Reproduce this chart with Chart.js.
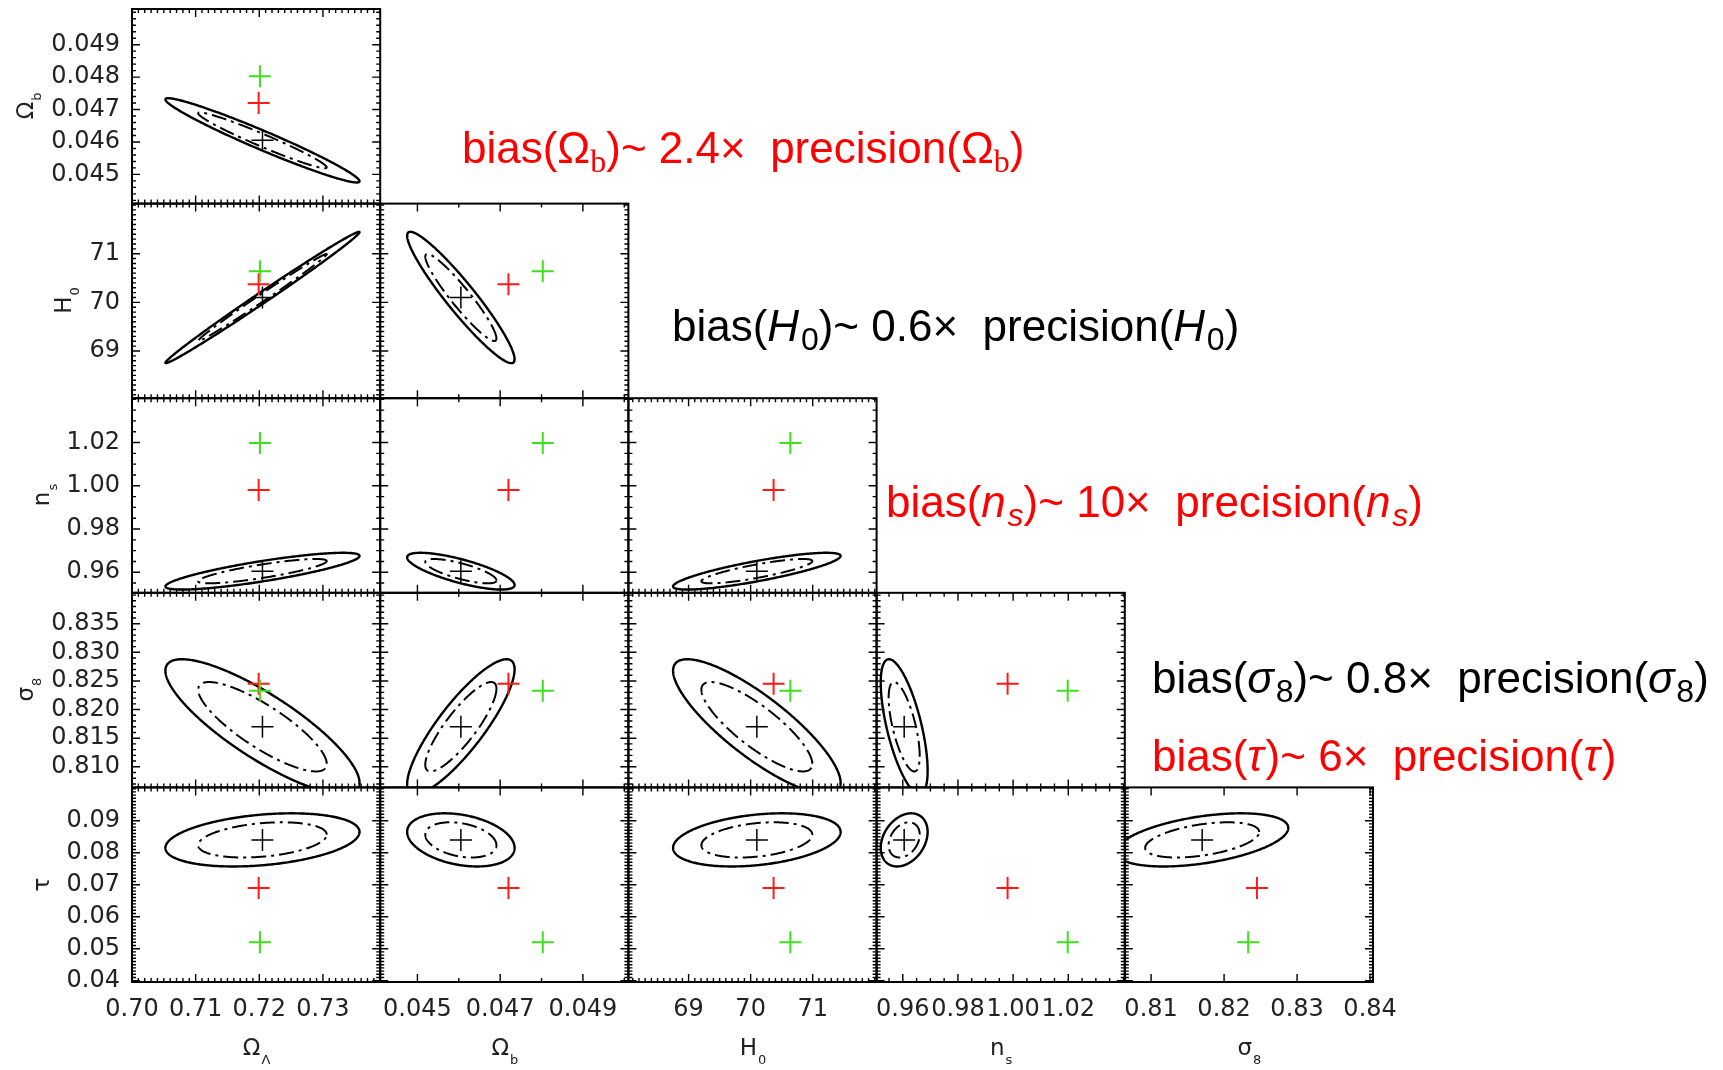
<!DOCTYPE html>
<html>
<head>
<meta charset="utf-8">
<script src="https://cdn.jsdelivr.net/npm/chart.js@4/dist/chart.umd.min.js"></script>
<style>
  html, body { margin: 0; padding: 0; background: #fff; }
</style>
</head>
<body>
<canvas id="tri" width="1723" height="1070"></canvas>
<script>
// parameter order: columns use 0..4, rows use 1..5
var paramNames = ['Omega_L', 'Omega_b', 'H0', 'n_s', 'sigma_8', 'tau'];
var axisMin = [0.700, 0.0441, 68.03, 0.9505, 0.8064, 0.0396];
var axisMax = [0.739, 0.0501, 72.03, 1.0405, 0.8404, 0.1004];

// black = fiducial, red and green = biased fits
var fiducial    = [0.7205, 0.04605, 70.10, 0.9605, 0.8170, 0.0840];
var biasedRed   = [0.7199, 0.04720, 70.37, 0.9980, 0.8245, 0.0690];
var biasedGreen = [0.7201, 0.04803, 70.64, 1.0198, 0.8233, 0.0520];

// marginal errors (inner contour half-width) and pair correlations [i, j, rho]
var sigma = [0.0101, 0.00086, 0.894, 0.00563, 0.00781, 0.0055];
var correlations = [
  [0, 1, -0.97], [0, 2, 0.995], [1, 2, -0.94],
  [0, 3, 0.83], [1, 3, -0.75], [2, 3, 0.83],
  [0, 4, -0.83], [1, 4, 0.85], [2, 4, -0.83], [3, 4, -0.65],
  [0, 5, 0.30], [1, 5, -0.30], [2, 5, 0.30], [3, 5, 0.30], [4, 5, 0.45]
];
var contourLevels = [1.0, 1.51];

var xTickLabels = [
  [0.70, 0.71, 0.72, 0.73],
  [0.045, 0.047, 0.049],
  [69, 70, 71],
  [0.96, 0.98, 1.00, 1.02],
  [0.81, 0.82, 0.83, 0.84]
];
var yTickLabels = [
  [0.045, 0.046, 0.047, 0.048, 0.049],
  [69, 70, 71],
  [0.96, 0.98, 1.00, 1.02],
  [0.810, 0.815, 0.820, 0.825, 0.830, 0.835],
  [0.04, 0.05, 0.06, 0.07, 0.08, 0.09]
];
var xDecimals = [2, 3, 0, 2, 2];
var yDecimals = [3, 0, 2, 3, 2];
var xMinorStep = [0.001, 0.001, 0.1, 0.005, 0.01];
var yMinorStep = [0.0002, 0.1, 0.005, 0.001, 0.001];

var xTitles = [['Ω', 'Λ'], ['Ω', 'b'], ['H', '0'], ['n', 's'], ['σ', '8']];
var yTitles = [['Ω', 'b'], ['H', '0'], ['n', 's'], ['σ', '8'], ['τ', '']];

// bias notes: segments [text, style] (i = italic, s = subscript, si = italic subscript)
var biasNotes = [
  { color: '#ff0000', parts: [['bias('], ['Ω'], ['b', 's'], [')~ 2.4×  precision('], ['Ω'], ['b', 's'], [')']] },
  { color: '#000000', parts: [['bias('], ['H', 'i'], ['0', 's'], [')~ 0.6×  precision('], ['H', 'i'], ['0', 's'], [')']] },
  { color: '#ff0000', parts: [['bias('], ['n', 'i'], ['s', 'si'], [')~ 10×  precision('], ['n', 'i'], ['s', 'si'], [')']] },
  { color: '#000000', parts: [['bias('], ['σ', 'i'], ['8', 's'], [')~ 0.8×  precision('], ['σ', 'i'], ['8', 's'], [')']] },
  { color: '#ff0000', parts: [['bias('], ['τ', 'i'], [')~ 6×  precision('], ['τ', 'i'], [')']] }
];
var notePos = [[462, 163], [672, 341], [886, 517], [1152, 693], [1152, 771]];

var NP = 5;
var tickFont = { family: 'DejaVu Sans', size: 24 };
var noteSize = 44;

function corrOf(a, b) {
  for (var k = 0; k < correlations.length; k++) {
    var p = correlations[k];
    if ((p[0] === a && p[1] === b) || (p[0] === b && p[1] === a)) return p[2];
  }
  return 0;
}

function stepValues(min, max, step) {
  var out = [];
  for (var i = Math.ceil(min / step - 1e-6); i * step <= max + 1e-9; i++) out.push(i * step);
  return out;
}

var scales = {};
for (var c = 0; c < NP; c++) {
  (function(c) {
    scales['x' + c] = {
      type: 'linear', position: 'bottom', stack: 'cols', stackWeight: 1, weight: c,
      min: axisMin[c], max: axisMax[c],
      grid: { display: false, drawTicks: false },
      border: { display: false },
      ticks: {
        autoSkip: false, maxRotation: 0, padding: 13, color: '#222', font: tickFont,
        callback: function(v) { return Number(v).toFixed(xDecimals[c]); }
      },
      afterBuildTicks: function(s) { s.ticks = xTickLabels[c].map(function(v) { return { value: v }; }); },
      afterFit: function(s) { s.height = 88; s.paddingLeft = 0; s.paddingRight = 0; }
    };
  })(c);
}
for (var r = 0; r < NP; r++) {
  (function(r) {
    scales['y' + r] = {
      type: 'linear', position: 'left', stack: 'rows', stackWeight: 1, weight: NP - 1 - r,
      min: axisMin[r + 1], max: axisMax[r + 1],
      grid: { display: false, drawTicks: false },
      border: { display: false },
      ticks: {
        autoSkip: false, padding: 12, color: '#222', font: tickFont,
        callback: function(v) { return Number(v).toFixed(yDecimals[r]); }
      },
      afterBuildTicks: function(s) { s.ticks = yTickLabels[r].map(function(v) { return { value: v }; }); },
      afterFit: function(s) { s.width = 132; s.paddingTop = 0; s.paddingBottom = 0; }
    };
  })(r);
}

var datasets = [];
for (var r = 0; r < NP; r++) {
  for (var c = 0; c <= r; c++) {
    var b = r + 1;
    datasets.push({
      xAxisID: 'x' + c, yAxisID: 'y' + r,
      data: [
        { x: fiducial[c], y: fiducial[b] },
        { x: biasedRed[c], y: biasedRed[b] },
        { x: biasedGreen[c], y: biasedGreen[b] }
      ],
      pointStyle: 'cross',
      pointRadius: 11,
      pointBorderColor: ['#000000', '#ff1a1a', '#3ee01c'],
      pointBorderWidth: [1.5, 2, 2],
      showLine: false
    });
  }
}

function drawRich(ctx, x, y, parts, size, color) {
  ctx.fillStyle = color;
  ctx.textBaseline = 'alphabetic';
  ctx.textAlign = 'left';
  parts.forEach(function(p) {
    var st = p[1] || '';
    var fs = size, dy = 0, font;
    if (st === 's' || st === 'si') { fs = Math.round(size * 0.72); dy = size * 0.2; }
    if (st === 'i') font = 'italic ' + fs + 'px "Liberation Sans"';
    else if (st === 'si') font = 'italic ' + fs + 'px "Liberation Sans"';
    else if (st === 's' && p[0] === 'b') font = fs + 'px "Liberation Serif"';
    else font = fs + 'px "Liberation Sans"';
    ctx.font = font;
    ctx.fillText(p[0], x, y + dy);
    x += ctx.measureText(p[0]).width + (st === 'i' ? size * 0.04 : 0);
  });
}

var trianglePlugin = {
  id: 'triangle',
  beforeDatasetsDraw: function(chart) {
    var ctx = chart.ctx;
    for (var r = 0; r < NP; r++) {
      for (var c = 0; c <= r; c++) {
        var xs = chart.scales['x' + c], ys = chart.scales['y' + r];
        var a = c, b = r + 1, rho = corrOf(a, b);
        ctx.save();
        ctx.beginPath();
        ctx.rect(xs.left, ys.top, xs.right - xs.left, ys.bottom - ys.top);
        ctx.clip();
        contourLevels.forEach(function(k, li) {
          ctx.beginPath();
          for (var s = 0; s <= 360; s++) {
            var t = s / 360 * 2 * Math.PI;
            var vx = fiducial[a] + k * sigma[a] * Math.cos(t);
            var vy = fiducial[b] + k * sigma[b] * (rho * Math.cos(t) + Math.sqrt(1 - rho * rho) * Math.sin(t));
            var px = xs.getPixelForValue(vx), py = ys.getPixelForValue(vy);
            if (s === 0) ctx.moveTo(px, py); else ctx.lineTo(px, py);
          }
          ctx.closePath();
          ctx.setLineDash(li === 0 ? [15, 5, 3, 5] : []);
          ctx.lineWidth = li === 0 ? 2 : 2.4;
          ctx.strokeStyle = '#000';
          ctx.stroke();
        });
        ctx.restore();
      }
    }
  },
  afterDatasetsDraw: function(chart) {
    var ctx = chart.ctx;
    ctx.save();
    ctx.strokeStyle = '#000';
    ctx.setLineDash([]);
    for (var r = 0; r < NP; r++) {
      for (var c = 0; c <= r; c++) {
        var xs = chart.scales['x' + c], ys = chart.scales['y' + r];
        var L = xs.left, R = xs.right, T = ys.top, B = ys.bottom;
        ctx.lineWidth = 1.4;
        ctx.beginPath();
        stepValues(axisMin[c], axisMax[c], xMinorStep[c]).forEach(function(v) {
          var px = xs.getPixelForValue(v);
          ctx.moveTo(px, T); ctx.lineTo(px, T + 4);
          ctx.moveTo(px, B); ctx.lineTo(px, B - 4);
        });
        xTickLabels[c].forEach(function(v) {
          var px = xs.getPixelForValue(v);
          ctx.moveTo(px, T); ctx.lineTo(px, T + 8);
          ctx.moveTo(px, B); ctx.lineTo(px, B - 8);
        });
        stepValues(axisMin[r + 1], axisMax[r + 1], yMinorStep[r]).forEach(function(v) {
          var py = ys.getPixelForValue(v);
          ctx.moveTo(L, py); ctx.lineTo(L + 4, py);
          ctx.moveTo(R, py); ctx.lineTo(R - 4, py);
        });
        yTickLabels[r].forEach(function(v) {
          var py = ys.getPixelForValue(v);
          ctx.moveTo(L, py); ctx.lineTo(L + 8, py);
          ctx.moveTo(R, py); ctx.lineTo(R - 8, py);
        });
        ctx.stroke();
        ctx.lineWidth = 2;
        ctx.strokeRect(L, T, R - L, B - T);
      }
    }
    ctx.restore();
  },
  afterDraw: function(chart) {
    var ctx = chart.ctx, area = chart.chartArea;
    var mainFont = '23px "DejaVu Sans"', subFont = '13px "DejaVu Sans"';
    ctx.save();
    ctx.fillStyle = '#222';
    ctx.textBaseline = 'alphabetic';
    ctx.textAlign = 'left';
    // x titles
    for (var c = 0; c < NP; c++) {
      var xs = chart.scales['x' + c];
      var cx = (xs.left + xs.right) / 2;
      ctx.font = mainFont;
      var wm = ctx.measureText(xTitles[c][0]).width;
      ctx.font = subFont;
      var wsub = ctx.measureText(xTitles[c][1]).width;
      var x0 = cx - (wm + wsub) / 2;
      ctx.font = mainFont;
      ctx.fillText(xTitles[c][0], x0, area.bottom + 73);
      ctx.font = subFont;
      ctx.fillText(xTitles[c][1], x0 + wm + 1, area.bottom + 82);
    }
    // y titles, rotated, placed left of the widest tick label of the row
    var labelFont = tickFont.size + 'px "DejaVu Sans"';
    for (var r = 0; r < NP; r++) {
      var ys = chart.scales['y' + r];
      ctx.font = labelFont;
      var widest = 0;
      yTickLabels[r].forEach(function(v) {
        widest = Math.max(widest, ctx.measureText(v.toFixed(yDecimals[r])).width);
      });
      var bx = area.left - 12 - widest - 18;
      var cy = (ys.top + ys.bottom) / 2;
      ctx.font = mainFont;
      var wm2 = ctx.measureText(yTitles[r][0]).width;
      ctx.font = subFont;
      var ws2 = ctx.measureText(yTitles[r][1]).width;
      ctx.save();
      ctx.translate(bx, cy);
      ctx.rotate(-Math.PI / 2);
      var start = -(wm2 + ws2) / 2;
      ctx.font = mainFont;
      ctx.fillText(yTitles[r][0], start, 0);
      ctx.font = subFont;
      ctx.fillText(yTitles[r][1], start + wm2 + 1, 8);
      ctx.restore();
    }
    ctx.restore();
    // bias notes
    ctx.save();
    biasNotes.forEach(function(n, i) {
      drawRich(ctx, notePos[i][0], notePos[i][1], n.parts, noteSize, n.color);
    });
    ctx.restore();
  }
};

new Chart(document.getElementById('tri'), {
  type: 'scatter',
  data: { datasets: datasets },
  options: {
    responsive: false,
    animation: false,
    events: [],
    devicePixelRatio: 1,
    layout: { autoPadding: false, padding: { top: 9, right: 350, left: 0, bottom: 0 } },
    plugins: { legend: { display: false }, tooltip: { enabled: false } },
    scales: scales
  },
  plugins: [trianglePlugin]
});
</script>
</body>
</html>
